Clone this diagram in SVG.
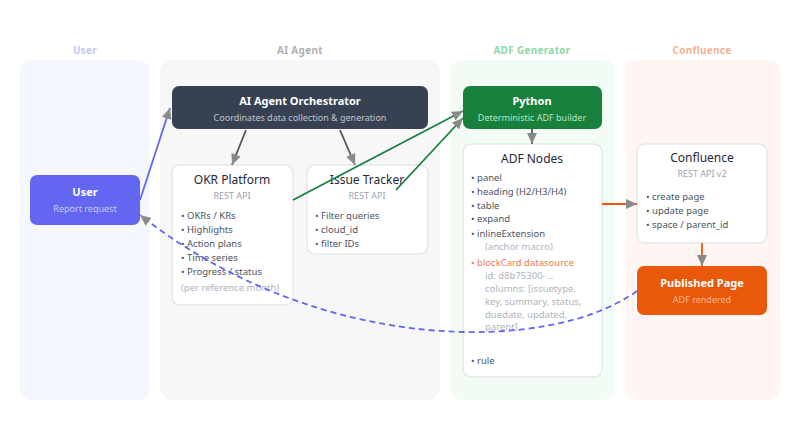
<svg xmlns="http://www.w3.org/2000/svg" width="800" height="440" viewBox="0 0 800 440">
<defs>
<style>
text{font-family:"Noto Sans","Open Sans","DejaVu Sans",sans-serif}
.lane-label{font-size:10px;font-weight:bold;text-anchor:middle;letter-spacing:0.3px}
.card{fill:#ffffff;stroke:#e5e7eb;stroke-width:1.5}
.ctitle{font-size:12px;fill:#1f2937;text-anchor:middle}
.csub{font-size:9px;fill:#9ca3af;text-anchor:middle}
.item{font-size:9.5px;fill:#4b5563}
.accent{font-size:9.5px;fill:#ed7b4b}
.muted{font-size:9.5px;fill:#b0b4bb}
.ntitle{font-size:11px;font-weight:bold;fill:#ffffff;text-anchor:middle}
.nsub{font-size:9px;text-anchor:middle}
.conn{fill:none;stroke-width:1.8}
</style>
<marker id="arr" markerWidth="11" markerHeight="10" refX="11" refY="5" orient="auto" markerUnits="userSpaceOnUse">
<path d="M0,0 L11,5 L0,10 z" fill="#8a8a8a"/>
</marker>
</defs>
<rect width="800" height="440" fill="#ffffff"/>
<g id="lanes">
<rect x="20" y="60" width="130" height="340" rx="12" fill="#f5f7ff"/>
<text class="lane-label" x="85" y="54" fill="#c4c6f7">User</text>
<rect x="160" y="60" width="280" height="340" rx="12" fill="#f7f7f7"/>
<text class="lane-label" x="300" y="54" fill="#b0b0b0">AI Agent</text>
<rect x="450" y="60" width="165" height="340" rx="12" fill="#f2fcf4"/>
<text class="lane-label" x="532" y="54" fill="#8fd9a8">ADF Generator</text>
<rect x="625" y="60" width="155" height="340" rx="12" fill="#fff5f3"/>
<text class="lane-label" x="702" y="54" fill="#f4b393">Confluence</text>
</g>
<g id="user">
<rect x="30" y="175" width="110" height="50" rx="7" fill="#6366f1"/>
<text class="ntitle" x="85" y="196">User</text>
<text class="nsub" x="85" y="212" fill="#c7c9fb">Report request</text>
</g>
<g id="orchestrator">
<rect x="172" y="86" width="256" height="43" rx="7" fill="#374151"/>
<text class="ntitle" x="300" y="105">AI Agent Orchestrator</text>
<text class="nsub" x="300" y="121" fill="#c0c4cc">Coordinates data collection &amp; generation</text>
</g>
<g id="okr">
<rect class="card" x="172" y="165" width="121" height="140" rx="8"/>
<text class="ctitle" x="232" y="184">OKR Platform</text>
<text class="csub" x="232" y="199">REST API</text>
<text class="item" x="181" y="219">• OKRs / KRs</text>
<text class="item" x="181" y="233">• Highlights</text>
<text class="item" x="181" y="247">• Action plans</text>
<text class="item" x="181" y="261">• Time series</text>
<text class="item" x="181" y="275">• Progress / status</text>
<text class="muted" x="181" y="291">(per reference month)</text>
</g>
<g id="issue">
<rect class="card" x="307" y="165" width="121" height="89" rx="8"/>
<text class="ctitle" x="367" y="184">Issue Tracker</text>
<text class="csub" x="367" y="199">REST API</text>
<text class="item" x="315" y="219">• Filter queries</text>
<text class="item" x="315" y="233">• cloud_id</text>
<text class="item" x="315" y="247">• filter IDs</text>
</g>
<g id="python">
<rect x="463" y="86" width="139" height="43" rx="7" fill="#17803d"/>
<text class="ntitle" x="532" y="105">Python</text>
<text class="nsub" x="532" y="121" fill="#b9e4c6">Deterministic ADF builder</text>
</g>
<g id="adf">
<rect class="card" x="463" y="144" width="139" height="233" rx="8"/>
<text class="ctitle" x="532" y="163">ADF Nodes</text>
<text class="item" x="471" y="181">• panel</text>
<text class="item" x="471" y="195">• heading (H2/H3/H4)</text>
<text class="item" x="471" y="209">• table</text>
<text class="item" x="471" y="222">• expand</text>
<text class="item" x="471" y="237">• inlineExtension</text>
<text class="muted" x="485" y="250">(anchor macro)</text>
<text class="accent" x="471" y="266">• blockCard datasource</text>
<text class="muted" x="485" y="279">id: d8b75300-...</text>
<text class="muted" x="485" y="292">columns: [issuetype,</text>
<text class="muted" x="485" y="305">key, summary, status,</text>
<text class="muted" x="485" y="318">duedate, updated,</text>
<text class="muted" x="485" y="330">parent]</text>
<text class="item" x="471" y="364">• rule</text>
</g>
<g id="confluence">
<rect class="card" x="637" y="144" width="130" height="99" rx="8"/>
<text class="ctitle" x="702" y="162">Confluence</text>
<text class="csub" x="702" y="177">REST API v2</text>
<text class="item" x="646" y="200">• create page</text>
<text class="item" x="646" y="214">• update page</text>
<text class="item" x="646" y="228">• space / parent_id</text>
</g>
<g id="published">
<rect x="637" y="266" width="130" height="49" rx="7" fill="#ea580c"/>
<text class="ntitle" x="702" y="287">Published Page</text>
<text class="nsub" x="702" y="303" fill="#f9b98f">ADF rendered</text>
</g>
<g id="connectors">
<line class="conn" x1="140" y1="200" x2="170" y2="108" stroke="#6366f1" marker-end="url(#arr)"/>
<line class="conn" x1="246" y1="130" x2="232" y2="165" stroke="#555555" marker-end="url(#arr)"/>
<line class="conn" x1="340" y1="130" x2="355" y2="165" stroke="#555555" marker-end="url(#arr)"/>
<line class="conn" x1="293" y1="200" x2="463" y2="111" stroke="#17803d" marker-end="url(#arr)"/>
<line class="conn" x1="396" y1="190" x2="463" y2="118" stroke="#17803d" marker-end="url(#arr)"/>
<line class="conn" x1="532" y1="129" x2="532" y2="144" stroke="#555555" marker-end="url(#arr)"/>
<line class="conn" x1="602" y1="204" x2="637" y2="204" stroke="#ea580c" marker-end="url(#arr)"/>
<line class="conn" x1="702" y1="243" x2="702" y2="266" stroke="#ea580c" marker-end="url(#arr)"/>
<path class="conn" d="M637,291 C550,354 320,356 140,215" stroke="#6366f1" stroke-dasharray="6,4" marker-end="url(#arr)"/>
</g>
</svg>
